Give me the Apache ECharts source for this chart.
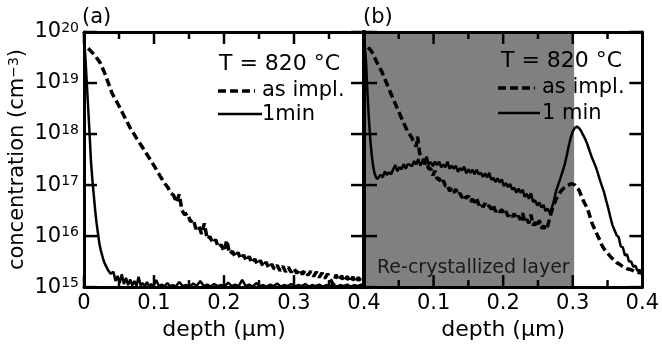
<!DOCTYPE html>
<html><head><meta charset="utf-8">
<script src="https://cdn.jsdelivr.net/npm/echarts@6/dist/echarts.min.js"></script>
<style>html,body{margin:0;padding:0;background:#fff}#c{width:662px;height:346px}</style>
</head><body><div id="c"></div>
<script>
// x tick values (µm): major and minor; y decades (log10 of cm^-3)
const xMajorTicks = [0, 0.1, 0.2, 0.3, 0.4];
const xMinorTicks = [0.05, 0.15, 0.25, 0.35];
const yDecades = [15, 16, 17, 18, 19, 20];

// Panel (a) — as implanted (depth µm, log10 concentration)
const aImplDepth = [0.006,0.015,0.023,0.030,0.040,0.050,0.060,0.066,0.075,0.083,0.090,0.100,0.109,0.116,
0.120,0.124,0.128,0.132,0.136,0.140,0.144,0.148,0.152,0.156,0.160,0.164,0.168,0.172,0.176,0.180,0.184,0.188,0.192,0.196,
0.200,0.204,0.208,0.212,0.216,0.220,0.224,0.228,0.232,0.236,0.240,0.244,0.248,0.252,0.256,0.260,0.264,0.268,0.272,0.276,
0.280,0.284,0.288,0.292,0.296,0.300,0.304,0.308,0.312,0.316,0.320,0.324,0.328,0.332,0.336,0.340,0.344,0.348,0.352,0.356,
0.360,0.364,0.368,0.372,0.376,0.380,0.384,0.388,0.392,0.396,0.400];
const aImplLog = [19.68,19.55,19.40,19.18,18.80,18.55,18.28,18.12,17.92,17.75,17.60,17.38,17.17,17.02,
16.95,16.84,16.80,16.66,16.82,16.50,16.42,16.45,16.28,16.33,16.14,16.20,16.04,16.25,15.94,15.99,15.86,15.93,15.78,15.83,
15.70,15.92,15.65,15.70,15.59,15.68,15.55,15.63,15.51,15.60,15.47,15.55,15.44,15.52,15.40,15.49,15.37,15.45,15.35,15.43,
15.32,15.41,15.30,15.39,15.29,15.37,15.27,15.35,15.25,15.33,15.23,15.31,15.21,15.30,15.19,15.28,15.17,15.26,15.15,15.05,
15.24,15.13,15.22,15.11,15.21,15.10,15.20,15.09,15.19,15.10,15.17];

// Panel (a) — 1 min anneal
const a1minDepth = [0.000,0.002,0.004,0.006,0.008,0.010,0.012,0.014,0.016,0.018,0.020,0.022,0.024,0.026,0.028,0.030,0.032,0.034,0.036,0.038,0.040,
0.042,0.045,0.048,0.051,0.054,0.057,0.060,0.063,0.066,0.069,0.072,0.075,0.078,0.081,0.084,0.087,0.090,0.093,0.096,0.099,
0.103,0.107,0.111,0.115,0.119,0.123,0.127,0.131,0.136,0.141,0.146,0.151,0.156,0.161,0.166,0.171,0.176,0.181,0.186,0.191,
0.196,0.201,0.206,0.211,0.216,0.221,0.226,0.231,0.236,0.241,0.246,0.251,0.256,0.261,0.266,0.271,0.276,0.281,0.286,0.291,
0.296,0.301,0.306,0.311,0.316,0.321,0.326,0.331,0.336,0.341,0.346,0.351,0.356,0.361,0.366,0.371,0.376,0.381,0.386,0.391,0.396,0.400];
const a1minLog = [19.95,19.50,19.00,18.50,18.00,17.45,17.10,16.80,16.50,16.25,16.05,15.85,15.72,15.62,15.52,15.45,15.40,15.34,15.30,15.26,15.24,
15.30,15.12,15.22,15.08,15.25,15.06,15.18,15.04,15.15,15.03,15.12,15.02,15.20,15.03,15.08,15.01,15.10,15.02,15.06,15.01,
15.14,15.02,15.05,15.01,15.08,15.02,15.04,15.01,15.10,15.02,15.04,15.01,15.07,15.02,15.12,15.02,15.05,15.01,15.06,15.02,
15.04,15.01,15.09,15.02,15.05,15.02,15.14,15.02,15.05,15.01,15.08,15.02,15.04,15.01,15.05,15.02,15.07,15.01,15.04,15.02,
15.06,15.01,15.04,15.02,15.06,15.01,15.04,15.02,15.05,15.01,15.04,15.02,15.05,15.01,15.04,15.02,15.05,15.01,15.04,15.02,15.05,15.02];

// Panel (b) — as implanted
const bImplDepth = [0.006,0.011,0.018,0.026,0.033,0.040,0.047,0.054,0.061,0.069,0.075,0.077,0.080,
0.084,0.087,0.090,0.093,0.096,0.099,0.102,0.105,0.108,0.111,0.114,0.117,0.120,0.123,0.126,0.129,0.132,0.135,0.138,0.141,
0.144,0.147,0.150,0.153,0.156,0.159,0.162,0.165,0.168,0.171,0.174,0.177,0.180,0.183,0.186,0.189,0.192,0.195,0.198,0.201,
0.204,0.207,0.210,0.213,0.216,0.219,0.222,0.225,0.228,0.231,0.234,0.237,0.240,0.243,0.246,0.249,0.252,0.255,0.258,0.261,
0.264,0.267,0.270,0.273,0.276,0.279,0.282,0.285,0.288,0.291,0.294,0.297,0.300,0.303,0.306,0.309,0.312,0.315,0.318,0.321,
0.324,0.327,0.330,0.333,0.336,0.339,0.342,0.345,0.348,0.351,0.354,0.357,0.360,0.363,0.366,0.369,0.372,0.375,0.378,0.381,
0.384,0.387,0.390,0.393,0.396,0.400];
const bImplLog = [19.70,19.62,19.42,19.21,18.98,18.75,18.53,18.31,18.10,17.92,17.75,17.95,17.62,
17.55,17.42,17.46,17.32,17.32,17.19,17.28,17.12,17.13,17.03,17.09,16.98,17.00,16.88,16.93,16.85,16.92,16.80,16.84,16.75,
16.81,16.74,16.79,16.68,16.72,16.66,16.74,16.61,16.66,16.57,16.64,16.56,16.60,16.52,16.60,16.48,16.53,16.47,16.52,16.43,
16.48,16.39,16.44,16.38,16.44,16.34,16.39,16.32,16.45,16.28,16.33,16.25,16.42,16.21,16.27,16.18,16.31,16.15,16.20,16.12,
16.20,16.35,16.50,16.62,16.72,16.80,16.86,16.91,16.95,16.98,17.00,17.02,17.02,17.00,16.95,16.90,16.80,16.70,16.62,16.55,
16.42,16.28,16.18,16.10,16.00,15.92,15.82,15.75,15.70,15.65,15.60,15.56,15.52,15.48,15.46,15.43,15.40,15.38,15.36,15.35,
15.34,15.32,15.30,15.30,15.28,15.27];

// Panel (b) — 1 min anneal
const b1minDepth = [0.000,0.003,0.005,0.007,0.009,0.011,0.013,0.015,0.017,0.019,0.021,
0.024,0.027,0.030,0.033,0.036,0.039,0.042,0.045,0.048,0.051,0.054,0.057,0.060,0.063,0.066,0.069,0.072,0.075,0.078,0.081,
0.084,0.087,0.090,0.093,0.096,0.099,0.102,0.105,0.108,0.111,0.114,0.117,0.120,0.123,0.126,0.129,0.132,0.135,0.138,0.141,
0.144,0.147,0.150,0.153,0.156,0.159,0.162,0.165,0.168,0.171,0.174,0.177,0.180,0.183,0.186,0.189,0.192,0.195,0.198,0.201,
0.204,0.207,0.210,0.213,0.216,0.219,0.222,0.225,0.228,0.231,0.234,0.237,0.240,0.243,0.246,0.249,0.252,0.255,0.258,0.261,
0.264,0.267,0.270,0.273,0.276,0.279,0.282,0.285,0.288,0.291,0.294,0.297,0.300,0.303,0.306,0.309,0.312,0.315,0.318,0.321,
0.324,0.327,0.330,0.333,0.336,0.339,0.342,0.345,0.348,0.351,0.354,0.357,0.360,0.363,0.366,0.369,0.372,0.375,0.378,0.381,
0.384,0.387,0.390,0.393,0.396,0.400];
const b1minLog = [19.95,19.40,18.80,18.30,17.90,17.60,17.38,17.24,17.16,17.12,17.13,
17.20,17.15,17.27,17.20,17.25,17.21,17.31,17.39,17.27,17.35,17.31,17.41,17.32,17.41,17.40,17.37,17.47,17.40,17.51,17.38,
17.47,17.41,17.56,17.40,17.45,17.37,17.46,17.39,17.46,17.35,17.40,17.35,17.46,17.32,17.38,17.32,17.38,17.26,17.33,17.29,
17.36,17.23,17.31,17.24,17.30,17.21,17.30,17.21,17.24,17.16,17.23,17.15,17.24,17.10,17.14,17.06,17.13,17.05,17.11,16.98,
17.04,16.96,17.02,16.91,16.95,16.85,16.93,16.85,16.91,16.77,16.83,16.73,16.84,16.67,16.70,16.60,16.66,16.56,16.61,16.49,
16.54,16.45,16.55,16.70,16.88,17.00,17.12,17.25,17.38,17.55,17.75,17.92,18.05,18.12,18.15,18.12,18.06,17.98,17.90,17.80,
17.68,17.56,17.46,17.36,17.24,17.10,16.98,16.86,16.70,16.55,16.38,16.22,16.12,16.02,15.98,15.80,15.78,15.62,15.64,15.50,
15.50,15.40,15.42,15.32,15.34,15.28];

const FONT = 'DejaVu Sans';
const pair = (d, l) => d.map((x, i) => [x, Math.pow(10, l[i])]);

const tickLabel = v => '{b|10}{s|' + Math.round(Math.log10(v)) + '}';
const richTick = {
  b: {fontSize: 21, fontFamily: FONT, color: '#000'},
  s: {fontSize: 14, fontFamily: FONT, color: '#000', verticalAlign: 'top', padding: [0, 0, 6, 0]}
};

function xAx(grid, pos, labels, fmt) {
  return {
    gridIndex: grid, type: 'value', position: pos, min: 0, max: 0.4, interval: 0.1, z: 6,
    axisLine: {onZero: false, lineStyle: {color: '#000', width: 3}},
    axisTick: {show: false}, minorTick: {show: false}, splitLine: {show: false},
    axisLabel: labels ? {show: true, fontSize: 21, fontFamily: FONT, color: '#000', margin: 6, formatter: fmt} : {show: false},
    name: labels ? 'depth (μm)' : '', nameLocation: 'middle', nameGap: 22,
    nameTextStyle: {fontSize: 22, fontFamily: FONT, color: '#000'}
  };
}
function yAx(grid, pos, labels, w) {
  const o = {
    gridIndex: grid, type: 'log', logBase: 10, position: pos, min: 1e15, max: 1e20, z: 6,
    axisLine: {show: true, onZero: false, lineStyle: {color: '#000', width: w}},
    axisTick: {show: false}, minorTick: {show: false}, splitLine: {show: false},
    axisLabel: labels ? {show: true, margin: 5, formatter: tickLabel, rich: richTick} : {show: false}
  };
  if (labels) {
    o.name = 'concentration (cm{s|−3})';
    o.nameLocation = 'middle';
    o.nameGap = 56;
    o.nameRotate = 90;
    o.nameTextStyle = {fontSize: 21, fontFamily: FONT, color: '#000',
      rich: {s: {fontSize: 14, fontFamily: FONT, color: '#000', verticalAlign: 'top', padding: [0, 0, 6, 0]}}};
  }
  return o;
}

// Tick marks drawn inward through the axes' own scales (api.coord)
const xTickData = xMajorTicks.map(v => [v, 1e15, 12]).concat(xMinorTicks.map(v => [v, 1e15, 7]));
const yTickData = yDecades.map(e => [0.2, Math.pow(10, e), 13]);
function xTickRender(params, api) {
  const v = api.value(0), len = api.value(2);
  const b = api.coord([v, 1e15]), t = api.coord([v, 1e20]);
  const st = {stroke: '#000', lineWidth: 2.5};
  return {type: 'group', children: [
    {type: 'line', shape: {x1: b[0], y1: b[1], x2: b[0], y2: b[1] - len}, style: st},
    {type: 'line', shape: {x1: t[0], y1: t[1], x2: t[0], y2: t[1] + len}, style: st}
  ]};
}
function yTickRender(params, api) {
  const v = api.value(1), len = api.value(2);
  const l = api.coord([0, v]), r = api.coord([0.4, v]);
  const st = {stroke: '#000', lineWidth: 2.5};
  return {type: 'group', children: [
    {type: 'line', shape: {x1: l[0], y1: l[1], x2: l[0] + len, y2: l[1]}, style: st},
    {type: 'line', shape: {x1: r[0], y1: r[1], x2: r[0] - len, y2: r[1]}, style: st}
  ]};
}

const chart = echarts.init(document.getElementById('c'), null, {renderer: 'canvas'});
const dashed = {color: '#000', width: 3.5, type: [8, 4]};
const solid = {color: '#000', width: 2.5};
const blk = {color: '#000'};
const ttl = (text, left, top, size, color) => ({text, left, top, padding: 0,
  textStyle: {fontSize: size, fontWeight: 'normal', fontFamily: FONT, color: color || '#000'}});
const swatch = (x1, x2, y, dash) => ({type: 'line', silent: true, z: 20,
  shape: {x1, y1: y, x2, y2: y}, style: {stroke: '#000', lineWidth: dash ? 3.5 : 2.5, lineDash: dash ? [8, 4] : null}});

chart.setOption({
  animation: false,
  backgroundColor: '#fff',
  grid: [
    {left: 84, top: 32, width: 280, height: 260},
    {left: 364, top: 32, width: 280, height: 260}
  ],
  xAxis: [
    xAx(0, 'bottom', true, v => String(v)),
    xAx(0, 'top', false),
    xAx(1, 'bottom', true, v => (v === 0 ? '' : String(v))),
    xAx(1, 'top', false)
  ],
  yAxis: [yAx(0, 'left', true, 3), yAx(0, 'right', false, 4), yAx(1, 'left', false, 4), yAx(1, 'right', false, 3)],
  title: [
    ttl('(a)', 82, 7, 21),
    ttl('(b)', 363, 7, 21),
    ttl('T = 820 °C', 219, 53, 22),
    ttl('T = 820 °C', 501, 50, 22),
    ttl('Re-crystallized layer', 377, 259, 19, '#1a1a1a')
  ],
  legend: [
    {data: ['as impl.', '1min'], icon: 'none', orient: 'vertical', left: 217, top: 80, padding: 0, itemGap: 3,
      itemWidth: 40, itemHeight: 14, textStyle: {fontSize: 21, fontFamily: FONT, color: '#000'}, selectedMode: false},
    {data: ['as impl.', '1 min'], icon: 'none', orient: 'vertical', left: 497, top: 77, padding: 0, itemGap: 5,
      itemWidth: 40, itemHeight: 14, textStyle: {fontSize: 21, fontFamily: FONT, color: '#000'}, selectedMode: false}
  ],
  graphic: [
    swatch(218, 255, 91, true), swatch(218, 262, 114, false),
    swatch(498, 535, 88, true), swatch(498, 540, 113, false)
  ],
  series: [
    {name: 'as impl.', type: 'line', xAxisIndex: 0, yAxisIndex: 0, showSymbol: false, symbol: 'none', z: 2,
      itemStyle: blk, lineStyle: dashed, data: pair(aImplDepth, aImplLog)},
    {name: '1min', type: 'line', xAxisIndex: 0, yAxisIndex: 0, showSymbol: false, symbol: 'none', z: 2,
      itemStyle: blk, lineStyle: solid, data: pair(a1minDepth, a1minLog)},
    {name: 'as impl.', type: 'line', xAxisIndex: 2, yAxisIndex: 2, showSymbol: false, symbol: 'none', z: 2,
      itemStyle: blk, lineStyle: dashed, data: pair(bImplDepth, bImplLog),
      markArea: {silent: true, itemStyle: {color: '#808080', opacity: 1},
        data: [[{xAxis: 0}, {xAxis: 0.302}]]}},
    {name: '1 min', type: 'line', xAxisIndex: 2, yAxisIndex: 2, showSymbol: false, symbol: 'none', z: 2,
      itemStyle: blk, lineStyle: solid, data: pair(b1minDepth, b1minLog)},
    {name: 'ticks-x-a', type: 'custom', xAxisIndex: 0, yAxisIndex: 0, silent: true, z: 10, renderItem: xTickRender, data: xTickData},
    {name: 'ticks-y-a', type: 'custom', xAxisIndex: 0, yAxisIndex: 0, silent: true, z: 10, renderItem: yTickRender, data: yTickData},
    {name: 'ticks-x-b', type: 'custom', xAxisIndex: 2, yAxisIndex: 2, silent: true, z: 10, renderItem: xTickRender, data: xTickData},
    {name: 'ticks-y-b', type: 'custom', xAxisIndex: 2, yAxisIndex: 2, silent: true, z: 10, renderItem: yTickRender, data: yTickData}
  ]
});
</script></body></html>
